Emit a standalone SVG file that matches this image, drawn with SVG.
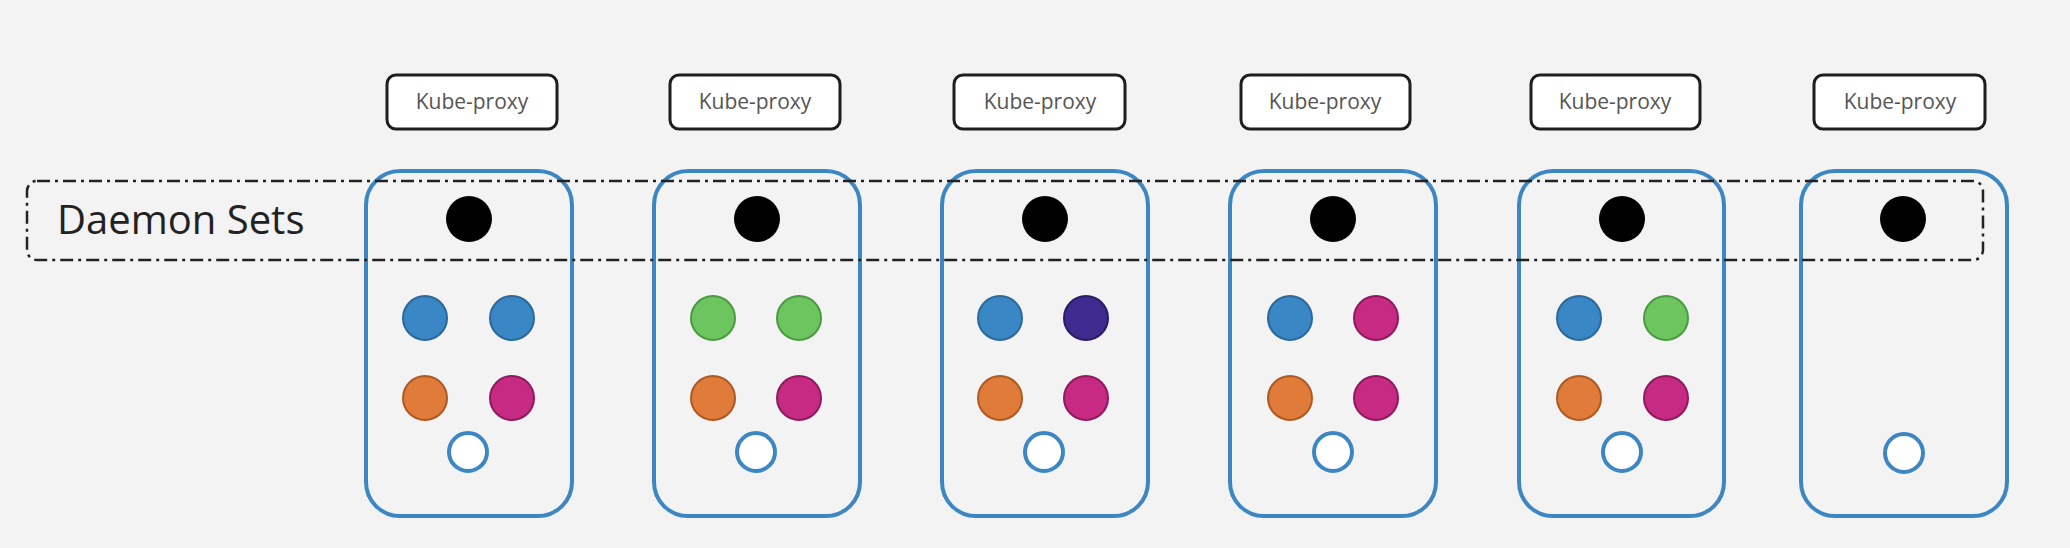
<svg xmlns="http://www.w3.org/2000/svg" width="2070" height="548" viewBox="0 0 2070 548">
<defs>
<style>
.bg{fill:#f3f3f3}
.node{fill:none;stroke:#3c87c3;stroke-width:4}
.kp rect{fill:#ffffff;stroke:#1e1e1e;stroke-width:3}
.kp text{font-family:"Open Sans","Liberation Sans",sans-serif;font-size:21px;fill:#555555;text-anchor:middle}
.ds{fill:none;stroke:#222222;stroke-width:2.5;stroke-dasharray:13 5 3 5}
.lbl{font-family:"Open Sans","Liberation Sans",sans-serif;font-size:40px;fill:#222222}
.blk{fill:#000000}
.blue{fill:#3a87c6;stroke:#2c6899;stroke-width:2}
.green{fill:#6cc55e;stroke:#4c9a42;stroke-width:2}
.orange{fill:#e07b39;stroke:#ad5a22;stroke-width:2}
.mag{fill:#c72a83;stroke:#8f1b5e;stroke-width:2}
.purple{fill:#3f2a8f;stroke:#2a1c66;stroke-width:2}
.hollow{fill:#ffffff;stroke:#3c87c3;stroke-width:4}
</style>
</defs>
<rect class="bg" x="0" y="0" width="2070" height="548"/>

<g id="kube-proxies">
<g id="kp1" class="kp"><rect x="387" y="75" width="170" height="54" rx="9"/><text x="472" y="109">Kube-proxy</text></g>
<g id="kp2" class="kp"><rect x="670" y="75" width="170" height="54" rx="9"/><text x="755" y="109">Kube-proxy</text></g>
<g id="kp3" class="kp"><rect x="954" y="75" width="171" height="54" rx="9"/><text x="1040" y="109">Kube-proxy</text></g>
<g id="kp4" class="kp"><rect x="1241" y="75" width="169" height="54" rx="9"/><text x="1325" y="109">Kube-proxy</text></g>
<g id="kp5" class="kp"><rect x="1531" y="75" width="169" height="54" rx="9"/><text x="1615" y="109">Kube-proxy</text></g>
<g id="kp6" class="kp"><rect x="1814" y="75" width="171" height="54" rx="9"/><text x="1900" y="109">Kube-proxy</text></g>
</g>

<g id="node1">
<rect class="node" x="366" y="171" width="206" height="345" rx="34"/>
<circle class="blk" cx="469" cy="219" r="23"/>
<circle class="blue" cx="425" cy="318" r="22"/>
<circle class="blue" cx="512" cy="318" r="22"/>
<circle class="orange" cx="425" cy="398" r="22"/>
<circle class="mag" cx="512" cy="398" r="22"/>
<circle class="hollow" cx="468" cy="452" r="19"/>
</g>
<g id="node2">
<rect class="node" x="654" y="171" width="206" height="345" rx="34"/>
<circle class="blk" cx="757" cy="219" r="23"/>
<circle class="green" cx="713" cy="318" r="22"/>
<circle class="green" cx="799" cy="318" r="22"/>
<circle class="orange" cx="713" cy="398" r="22"/>
<circle class="mag" cx="799" cy="398" r="22"/>
<circle class="hollow" cx="756" cy="452" r="19"/>
</g>
<g id="node3">
<rect class="node" x="942" y="171" width="206" height="345" rx="34"/>
<circle class="blk" cx="1045" cy="219" r="23"/>
<circle class="blue" cx="1000" cy="318" r="22"/>
<circle class="purple" cx="1086" cy="318" r="22"/>
<circle class="orange" cx="1000" cy="398" r="22"/>
<circle class="mag" cx="1086" cy="398" r="22"/>
<circle class="hollow" cx="1044" cy="452" r="19"/>
</g>
<g id="node4">
<rect class="node" x="1230" y="171" width="206" height="345" rx="34"/>
<circle class="blk" cx="1333" cy="219" r="23"/>
<circle class="blue" cx="1290" cy="318" r="22"/>
<circle class="mag" cx="1376" cy="318" r="22"/>
<circle class="orange" cx="1290" cy="398" r="22"/>
<circle class="mag" cx="1376" cy="398" r="22"/>
<circle class="hollow" cx="1333" cy="452" r="19"/>
</g>
<g id="node5">
<rect class="node" x="1519" y="171" width="205" height="345" rx="34"/>
<circle class="blk" cx="1622" cy="219" r="23"/>
<circle class="blue" cx="1579" cy="318" r="22"/>
<circle class="green" cx="1666" cy="318" r="22"/>
<circle class="orange" cx="1579" cy="398" r="22"/>
<circle class="mag" cx="1666" cy="398" r="22"/>
<circle class="hollow" cx="1622" cy="452" r="19"/>
</g>
<g id="node6">
<rect class="node" x="1801" y="171" width="206" height="345" rx="34"/>
<circle class="blk" cx="1903" cy="219" r="23"/>
<circle class="hollow" cx="1904" cy="453" r="19"/>
</g>

<g id="daemon-sets">
<rect class="ds" x="27" y="181" width="1956" height="79" rx="10"/>
<text class="lbl" x="57" y="234">Daemon Sets</text>
</g>
</svg>
